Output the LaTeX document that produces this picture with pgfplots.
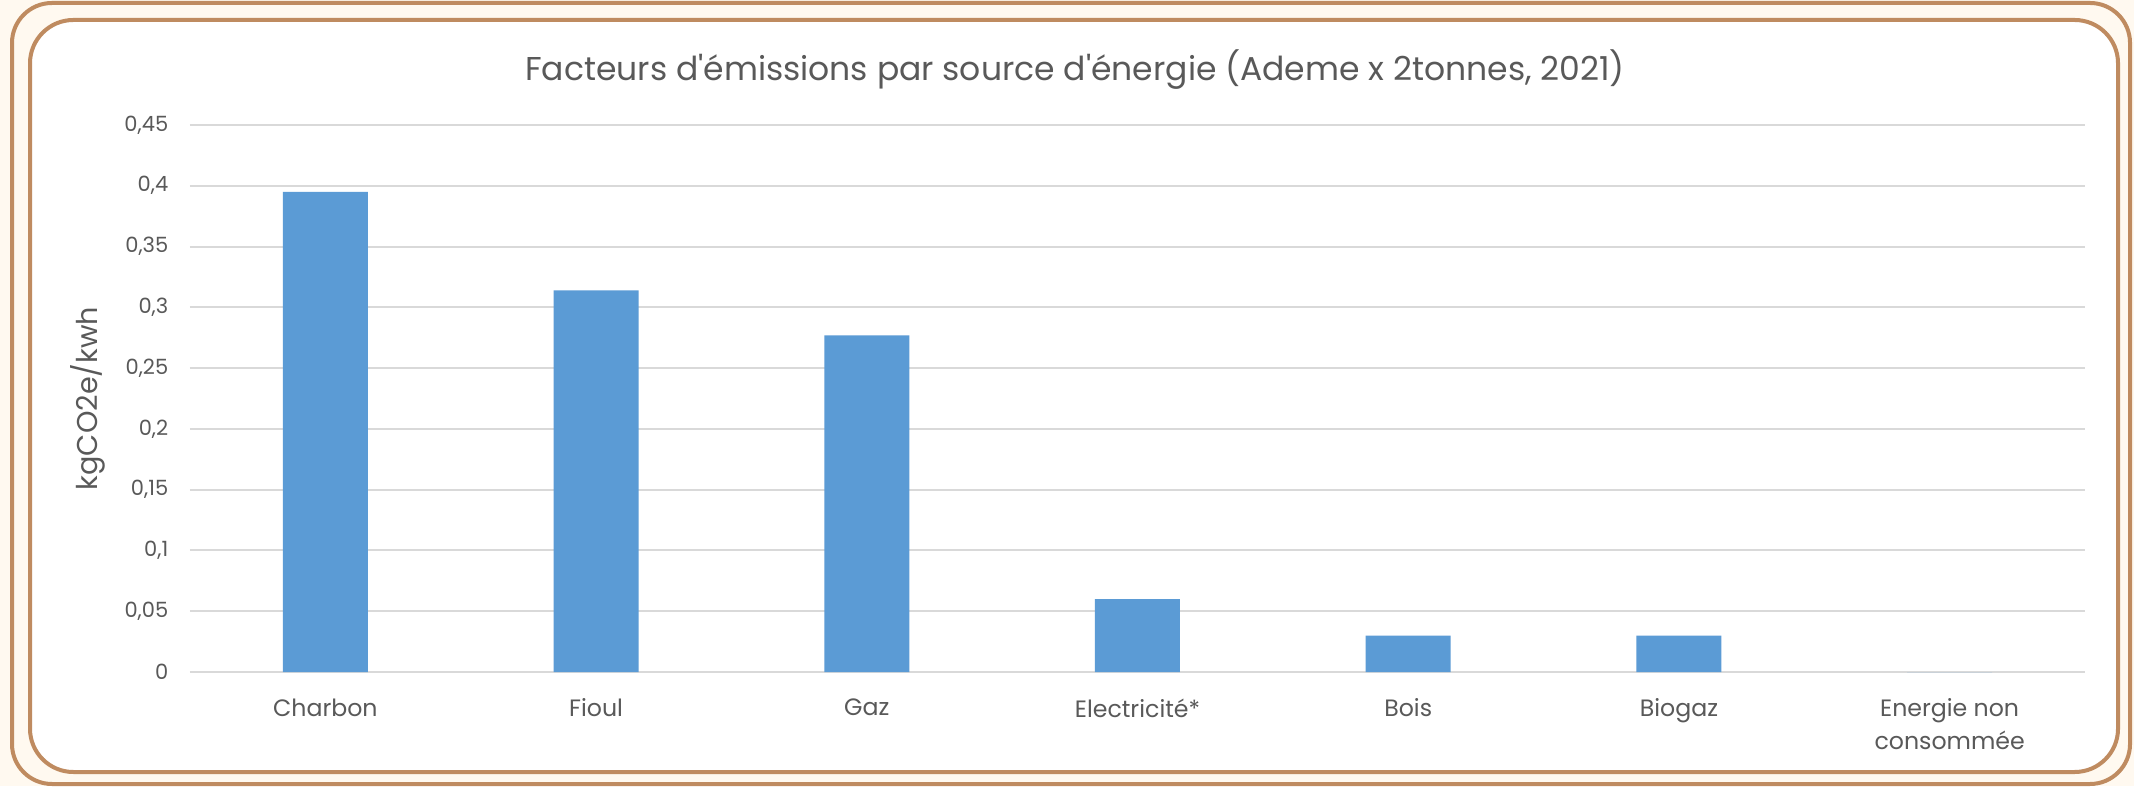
\documentclass[border=0pt]{standalone}
\usepackage{fontspec}
\setmainfont{Poppins}
\usepackage{pgfplots}
\pgfplotsset{compat=1.18}
\definecolor{frame}{RGB}{191,139,96}
\definecolor{cream}{RGB}{255,249,240}
\definecolor{barblue}{RGB}{91,155,213}
\definecolor{gridgray}{RGB}{217,217,217}
\definecolor{txt}{RGB}{89,89,89}

\begin{document}
\begin{tikzpicture}[x=0.3pt,y=0.3pt]
\useasboundingbox (0,0) rectangle (2134,786);
% background and the two rounded frames (pixel units, y from bottom)
\fill[cream] (0,0) rectangle (2134,786);
\draw[frame,line width=1.2pt,rounded corners=12pt] (12,2) rectangle (2130,783);
\draw[fill=white,draw=frame,line width=1.2pt,rounded corners=13pt] (30,14) rectangle (2118,766);
\node[txt,font=\fontsize{9.9}{12}\selectfont] at (1075,716) {Facteurs d\textquotesingle émissions par source d\textquotesingle énergie (Ademe x 2tonnes, 2021)};

\begin{axis}[
    at={(57pt,34.2pt)}, anchor=south west,
    scale only axis,
    width=568.5pt, height=164.1pt,
    ybar, bar width=25.5pt,
    xmin=-0.5, xmax=6.5, ymin=0, ymax=0.45,
    xtick=data,
    xticklabels={Charbon, Fioul, Gaz, Electricité*, Bois, Biogaz, {Energie non\\consommée}},
    xticklabel style={align=center, text=txt, yshift=-4.5pt, font=\fontsize{7.1}{9.8}\selectfont},
    ytick distance=0.05,
    yticklabel style={text=txt, xshift=-3pt, font=\fontsize{6.3}{8}\selectfont,
        /pgf/number format/.cd, fixed, precision=2, use comma, assume math mode=true},
    ymajorgrids=true,
    grid style={gridgray, line width=0.6pt},
    axis line style={draw=none},
    x axis line style={draw=gridgray, line width=0.6pt},
    major tick length=0pt,
    xtick style={draw=none}, ytick style={draw=none},
    ylabel={kgCO2e/kwh},
    ylabel style={at={(axis description cs:-0.054,0.5)}, anchor=center, text=txt, font=\fontsize{8.6}{10}\selectfont},
    scaled y ticks=false,
]
\addplot[fill=barblue, draw=none] coordinates {(0,0.395)(1,0.314)(2,0.277)(3,0.060)(4,0.030)(5,0.030)(6,0)};
\end{axis}
\end{tikzpicture}
\end{document}
